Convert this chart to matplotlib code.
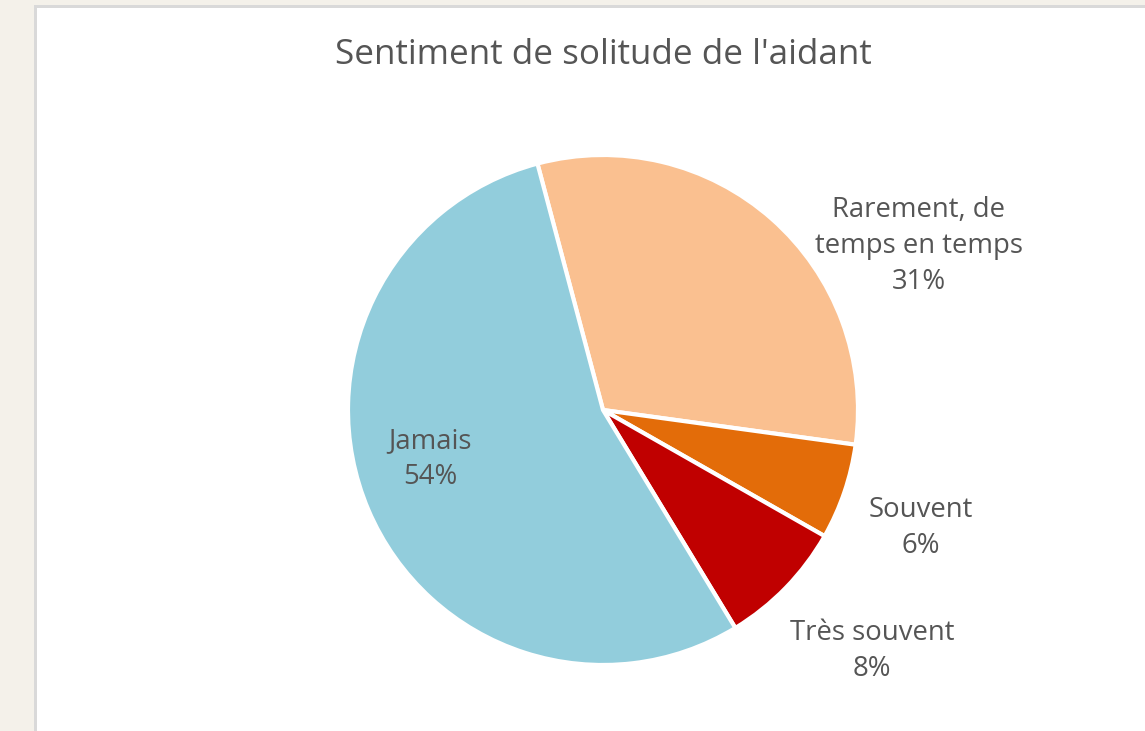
import matplotlib
matplotlib.use("Agg")
import matplotlib.pyplot as plt
from matplotlib.patches import Rectangle

# Survey results: how often the caregiver feels lonely
categories = ["Rarement, de\ntemps en temps", "Souvent", "Très souvent", "Jamais"]
percentages = [31, 6, 8, 54]
colors = ["#FAC090", "#E36C09", "#C00000", "#92CDDC"]
title = "Sentiment de solitude de l'aidant"

W, H = 1145, 731
DPI = 100
CX, CY, R = 603, 410, 255  # pie centre and radius in pixels

plt.rcParams["font.family"] = ["Open Sans", "DejaVu Sans"]
fig = plt.figure(figsize=(W / DPI, H / DPI), dpi=DPI)
fig.patch.set_facecolor("#F4F1EA")

# White chart panel with a light grey frame
fig.patches.append(Rectangle((34 / W, 0), (W - 34) / W, (H - 5) / H,
                             transform=fig.transFigure, facecolor="#D9D9D9",
                             edgecolor="none", zorder=0))
fig.patches.append(Rectangle((37 / W, 0), (W - 37) / W, (H - 8) / H,
                             transform=fig.transFigure, facecolor="white",
                             edgecolor="none", zorder=0))

ax = fig.add_axes([0, 0, 1, 1])
ax.set_zorder(2)
ax.set_facecolor("none")

wedges, _ = ax.pie(percentages, colors=colors, startangle=104.9,
                   counterclock=False, radius=1.0, center=(0, 0),
                   wedgeprops=dict(edgecolor="white", linewidth=3))
ax.set_xlim((0 - CX) / R, (W - CX) / R)
ax.set_ylim((CY - H) / R, CY / R)
ax.set_aspect("equal")
ax.axis("off")

# Label anchor points (pixel positions of each text block's centre)
label_px = [(919, 246), (921, 528), (872, 651), (430, 459)]
text_color = "#555555"
for name, pct, (px, py) in zip(categories, percentages, label_px):
    ax.text((px - CX) / R, (CY - py) / R, f"{name}\n{pct}%",
            ha="center", va="center", fontsize=19.8, color=text_color,
            linespacing=1.38)

fig.text(603 / W, 1 - 55 / H, title, ha="center", va="center",
         fontsize=25.2, color=text_color, zorder=3)

fig.savefig("out.png", dpi=DPI, facecolor=fig.get_facecolor())
